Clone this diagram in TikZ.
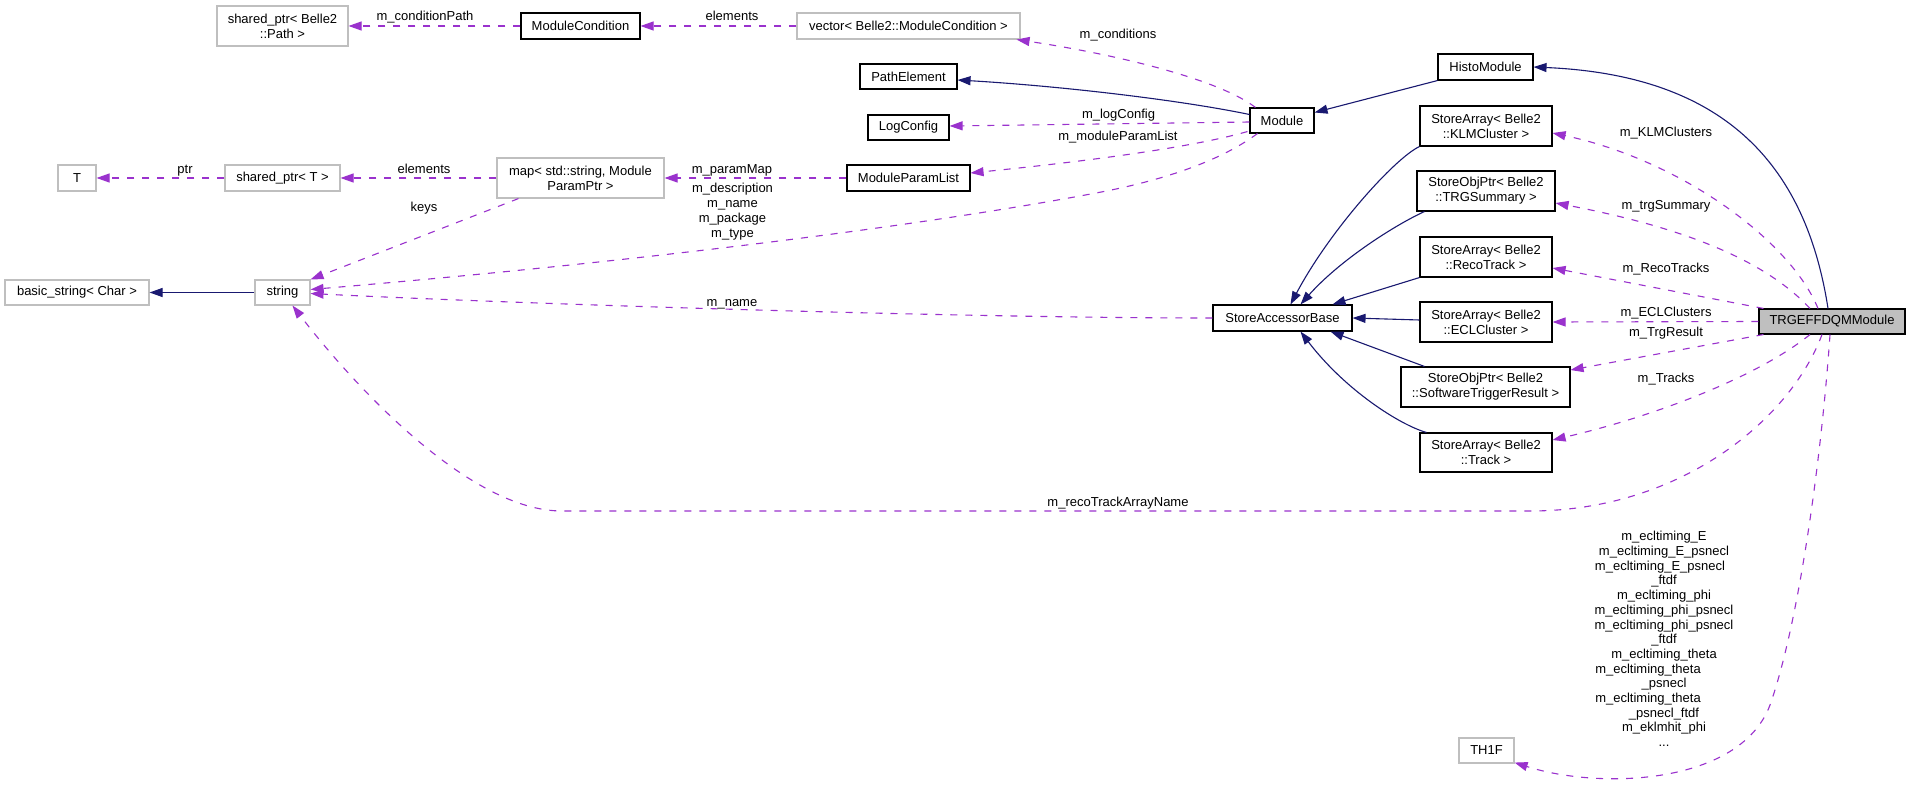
\documentclass[tikz,border=0pt]{standalone}
\usepackage{fontspec}
\setmainfont{Liberation Sans}
\usetikzlibrary{arrows.meta,calc}
\definecolor{inhcol}{HTML}{191970}
\definecolor{usecol}{HTML}{9A32CD}
\definecolor{grycol}{HTML}{BFBFBF}
\begin{document}
\begin{tikzpicture}[x=1pt,y=-1pt,
  base/.style={rectangle, inner sep=0pt, align=center, font=\fontsize{13}{15}\selectfont, line width=1.1pt},
  blk/.style={base, draw=black},
  gry/.style={base, draw=grycol},
  inh/.style={draw=inhcol, line width=1.1pt, -{Triangle[length=13pt,width=9pt]}},
  use/.style={draw=usecol, line width=1.1pt, dash pattern=on 7pt off 8pt, -{Triangle[length=13pt,width=9pt]}},
  lbl/.style={inner sep=0pt, font=\fontsize{13}{15}\selectfont, text height=9.4pt, text depth=2.7pt},
  mlbl/.style={inner sep=0pt, font=\fontsize{13}{15}\selectfont, align=center}]
\fill[white] (0,0) rectangle (1911,786);
\useasboundingbox (0,0) rectangle (1911,786);

% nodes
\node[gry, minimum width=131pt, minimum height=40pt] (spPath) at (282.5,26) {shared\_ptr< Belle2\\::Path >};
\node[blk, minimum width=119pt, minimum height=26pt] (modcond) at (580.5,26) {ModuleCondition};
\node[gry, minimum width=223pt, minimum height=26pt] (vecmc) at (908.5,26) {vector< Belle2::ModuleCondition >};
\node[blk, minimum width=97pt, minimum height=25pt] (pathel) at (908.5,76.5) {PathElement};
\node[blk, minimum width=81pt, minimum height=25pt] (logcfg) at (908.5,127.5) {LogConfig};
\node[blk, minimum width=123pt, minimum height=26pt] (mpl) at (908.5,178) {ModuleParamList};
\node[blk, minimum width=64pt, minimum height=25pt] (module) at (1282,120.5) {Module};
\node[blk, minimum width=95pt, minimum height=26pt] (histo) at (1485.5,67) {HistoModule};
\node[gry, minimum width=38pt, minimum height=26pt] (T) at (77,178) {T};
\node[gry, minimum width=115pt, minimum height=26pt] (spT) at (282.5,178) {shared\_ptr< T >};
\node[gry, minimum width=167pt, minimum height=40pt] (map) at (580.5,178) {map< std::string, Module\\ParamPtr >};
\node[gry, minimum width=144pt, minimum height=25pt] (bstr) at (77,292.5) {basic\_string< Char >};
\node[gry, minimum width=55pt, minimum height=25pt] (str) at (282.5,292.5) {string};
\node[blk, minimum width=139pt, minimum height=26pt] (sab) at (1282.5,318) {StoreAccessorBase};
\node[blk, minimum width=132pt, minimum height=40pt] (klm) at (1486,126) {StoreArray< Belle2\\::KLMCluster >};
\node[blk, minimum width=138pt, minimum height=40pt] (trgsum) at (1486,191) {StoreObjPtr< Belle2\\::TRGSummary >};
\node[blk, minimum width=132pt, minimum height=40pt] (reco) at (1486,257) {StoreArray< Belle2\\::RecoTrack >};
\node[blk, minimum width=132pt, minimum height=40pt] (ecl) at (1486,322) {StoreArray< Belle2\\::ECLCluster >};
\node[blk, minimum width=169pt, minimum height=40pt] (swtrg) at (1485.5,387) {StoreObjPtr< Belle2\\::SoftwareTriggerResult >};
\node[blk, minimum width=132pt, minimum height=39pt] (track) at (1486,452.5) {StoreArray< Belle2\\::Track >};
\node[blk, fill=grycol, minimum width=146pt, minimum height=25pt] (trgeff) at (1832,321.5) {TRGEFFDQMModule};
\node[gry, minimum width=55pt, minimum height=25pt] (th1f) at (1486.5,750.5) {TH1F};

% inheritance
\draw[inh] (str.west) -- (bstr.east);
\draw[inh] ($(module.west)+(0,-6)$) .. controls (1180,100) and (1060,86) .. ($(pathel.east)+(0,3.5)$);
\draw[inh] (histo.south west) -- ($(module.east)+(0,-8)$);
\draw[inh] ($(trgeff.north)+(-4,0)$) .. controls (1805,160) and (1720,75) .. (histo.east);
\draw[inh] (klm.south west) .. controls (1395,158) and (1330,230) .. ($(sab.north)+(8,0)$);
\draw[inh] ($(trgsum.south west)+(8,0)$) .. controls (1395,225) and (1340,260) .. ($(sab.north)+(18,0)$);
\draw[inh] (reco.south west) -- ($(sab.north)+(50,0)$);
\draw[inh] ($(ecl.west)+(0,-2)$) -- (sab.east);
\draw[inh] ($(swtrg.north west)+(24,0)$) -- ($(sab.south)+(48,0)$);
\draw[inh] ($(track.north west)+(7,0)$) .. controls (1400,425) and (1345,390) .. ($(sab.south)+(18,0)$);

% usage
\draw[use] ($(trgeff.north)+(-14,0)$) .. controls (1790,240) and (1680,160) .. ($(klm.east)+(0,7)$);
\draw[use] ($(trgeff.north)+(-22,0)$) .. controls (1760,255) and (1670,225) .. ($(trgsum.east)+(0,12)$);
\draw[use] ($(trgeff.north west)+(5,0)$) -- ($(reco.east)+(0,11)$);
\draw[use] (trgeff.west) -- (ecl.east);
\draw[use] ($(trgeff.south west)+(5,0)$) -- ($(swtrg.east)+(0,-17)$);
\draw[use] ($(trgeff.south)+(-22,0)$) .. controls (1760,375) and (1660,415) .. ($(track.east)+(0,-12.5)$);
\draw[use] ($(trgeff.south)+(-10,0)$) .. controls (1790,420) and (1680,511) .. (1530,511) -- (562,511) .. controls (470,511) and (355,387) .. ($(str.south)+(10,0)$);
\draw[use] ($(trgeff.south)+(-2,0)$) .. controls (1822,450) and (1800,620) .. (1770,705) .. controls (1740,785) and (1600,790) .. ($(th1f.south east)+(0,-1)$);
\draw[use] ($(module.north west)+(6,0)$) .. controls (1220,80) and (1120,55) .. ($(vecmc.south east)+(-4,0)$);
\draw[use] ($(module.west)+(0,1.5)$) -- ($(logcfg.east)+(0,-1.5)$);
\draw[use] ($(module.south west)+(-2,-2)$) .. controls (1190,148) and (1080,162) .. ($(mpl.east)+(0,-5)$);
\draw[use] ($(module.south west)+(8,0)$) .. controls (1215,165) and (1150,183) .. (1096,193) .. controls (900,230) and (600,265) .. ($(str.east)+(0,-3)$);
\draw[use] (mpl.west) -- (map.east);
\draw[use] (map.west) -- (spT.east);
\draw[use] (spT.west) -- (T.east);
\draw[use] ($(map.south)+(-62,0)$) -- (str.north east);
\draw[use] (vecmc.west) -- (modcond.east);
\draw[use] (modcond.west) -- (spPath.east);
\draw[use] (sab.west) .. controls (950,318) and (500,303) .. ($(str.east)+(0,1)$);

% labels
\node[lbl] (lcp) at (425,17) {m\_conditionPath};
\node[lbl] (lel1) at (732,17) {elements};
\node[lbl] (lcond) at (1118,35) {m\_conditions};
\node[lbl] (llog) at (1118.5,115) {m\_logConfig};
\node[lbl] (lmpl) at (1118,137) {m\_moduleParamList};
\node[lbl] (lpm) at (732,170) {m\_paramMap};
\node[mlbl] (ldesc) at (732.5,211.5) {m\_description\\m\_name\\m\_package\\m\_type};
\node[lbl] (lname) at (732,303) {m\_name};
\node[lbl] (lel2) at (424,170) {elements};
\node[lbl] (lptr) at (185,170) {ptr};
\node[lbl] (lkeys) at (424,208) {keys};
\node[lbl] (lklm) at (1666,133) {m\_KLMClusters};
\node[lbl] (ltrg) at (1666,206) {m\_trgSummary};
\node[lbl] (lreco) at (1666,269) {m\_RecoTracks};
\node[lbl] (lecl) at (1666,313) {m\_ECLClusters};
\node[lbl] (ltrgr) at (1666,333) {m\_TrgResult};
\node[lbl] (ltrk) at (1666,379) {m\_Tracks};
\node[lbl] (lrta) at (1118,503) {m\_recoTrackArrayName};
\node[mlbl, font=\fontsize{13}{14.7}\selectfont] (lhist) at (1664,639) {m\_ecltiming\_E\\m\_ecltiming\_E\_psnecl\\m\_ecltiming\_E\_psnecl\rule{8pt}{0pt}\\\_ftdf\\m\_ecltiming\_phi\\m\_ecltiming\_phi\_psnecl\\m\_ecltiming\_phi\_psnecl\\\_ftdf\\m\_ecltiming\_theta\\m\_ecltiming\_theta\rule{32pt}{0pt}\\\_psnecl\\m\_ecltiming\_theta\rule{32pt}{0pt}\\\_psnecl\_ftdf\\m\_eklmhit\_phi\\...};
\end{tikzpicture}
\end{document}
